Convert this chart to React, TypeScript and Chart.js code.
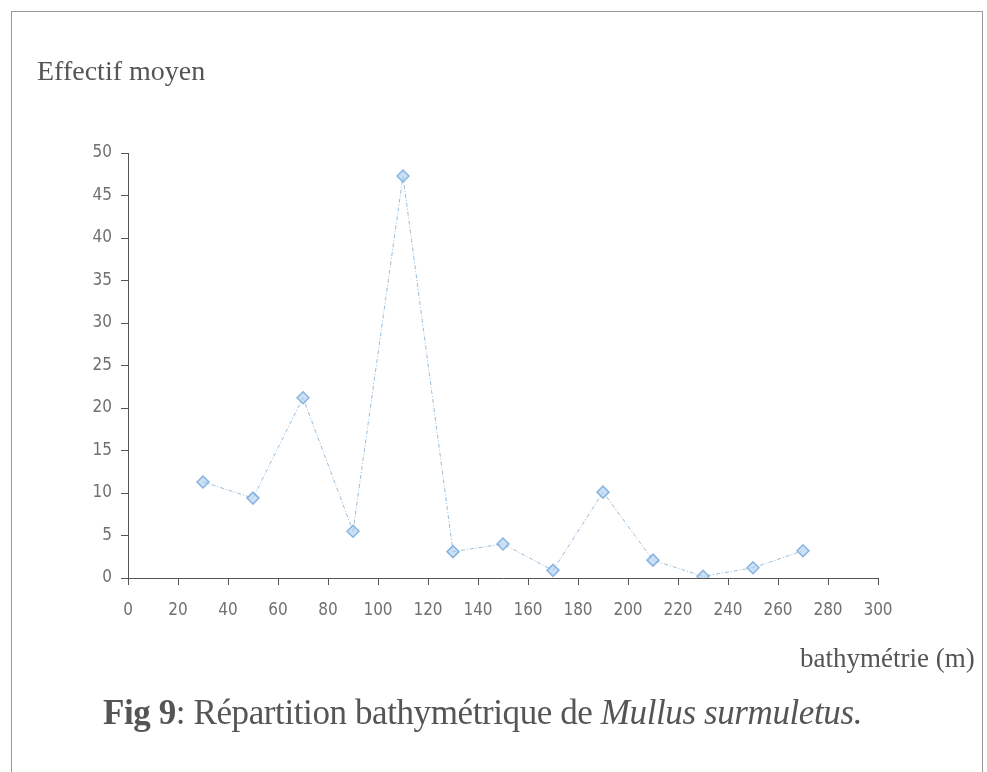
import React, { useEffect, useRef } from "react";
import { Chart, registerables } from "chart.js";

Chart.register(...registerables);

const depths = [30, 50, 70, 90, 110, 130, 150, 170, 190, 210, 230, 250, 270];
const effectifs = [11.3, 9.4, 21.2, 5.5, 47.3, 3.1, 4.0, 0.9, 10.1, 2.1, 0.2, 1.2, 3.2];

const xMin = 0;
const xMax = 300;
const xStep = 20;
const yMin = 0;
const yMax = 50;
const yStep = 5;

const yTitle = "Effectif moyen";
const xTitle = "bathymétrie (m)";

export default function App() {
  const canvasRef = useRef<HTMLCanvasElement | null>(null);

  useEffect(() => {
    const canvas = canvasRef.current;
    if (!canvas) return;
    const tickFont = { family: "'Liberation Sans Narrow', 'DejaVu Sans Condensed', 'DejaVu Sans Mono'", size: 17 };
    const chart = new Chart(canvas, {
      type: "line",
      data: {
        datasets: [
          {
            data: depths.map((d, i) => ({ x: d, y: effectifs[i] })),
            borderColor: "rgba(150,185,215,0.95)",
            borderWidth: 1,
            borderDash: [4, 2, 1, 2],
            pointStyle: "rectRot",
            pointRadius: 6,
            pointBorderWidth: 1.5,
            pointBackgroundColor: "rgba(170,205,240,0.6)",
            pointBorderColor: "rgba(120,170,220,0.85)",
            tension: 0,
          },
        ],
      },
      options: {
        responsive: false,
        animation: false,
        maintainAspectRatio: false,
        layout: { padding: { left: 0, right: 109, top: 153, bottom: 154 } },
        plugins: { legend: { display: false }, tooltip: { enabled: false }, title: { display: false } },
        scales: {
          x: {
            type: "linear",
            min: xMin,
            max: xMax,
            ticks: { stepSize: xStep, color: "#707070", font: tickFont, padding: 15 },
            grid: { drawOnChartArea: false, drawTicks: true, tickLength: 7, color: "#555" },
            border: { display: true, color: "#555", width: 1 },
            afterFit: (s: any) => {
              s.height = 40;
            },
          },
          y: {
            type: "linear",
            min: yMin,
            max: yMax,
            ticks: { stepSize: yStep, color: "#707070", font: tickFont, padding: 9 },
            grid: { drawOnChartArea: false, drawTicks: true, tickLength: 7, color: "#555" },
            border: { display: true, color: "#555", width: 1 },
            afterFit: (s: any) => {
              s.width = 128;
            },
          },
        },
      },
    });
    return () => chart.destroy();
  }, []);

  const serif = "'Liberation Serif', 'Times New Roman', serif";

  return (
    <div style={{ position: "fixed", left: 0, top: 0, width: 987, height: 772, background: "#fff", overflow: "hidden" }}>
      <div
        style={{
          position: "absolute",
          left: 11,
          top: 11,
          width: 972,
          height: 800,
          border: "1px solid #999",
          boxSizing: "border-box",
        }}
      />
      <canvas ref={canvasRef} width={987} height={772} style={{ position: "absolute", left: 0, top: 0 }} />
      <div style={{ position: "absolute", left: 37, top: 55, fontFamily: serif, fontSize: 28, color: "#555", whiteSpace: "nowrap" }}>
        {yTitle}
      </div>
      <div style={{ position: "absolute", left: 800, top: 643, fontFamily: serif, fontSize: 27, color: "#555", whiteSpace: "nowrap" }}>
        {xTitle}
      </div>
      <div
        style={{
          position: "absolute",
          left: 103,
          top: 693,
          fontFamily: serif,
          fontSize: 35,
          color: "#555",
          whiteSpace: "nowrap",
          letterSpacing: -0.4,
        }}
      >
        <b>Fig 9</b>: Répartition bathymétrique de <i>Mullus surmuletus.</i>
      </div>
    </div>
  );
}
